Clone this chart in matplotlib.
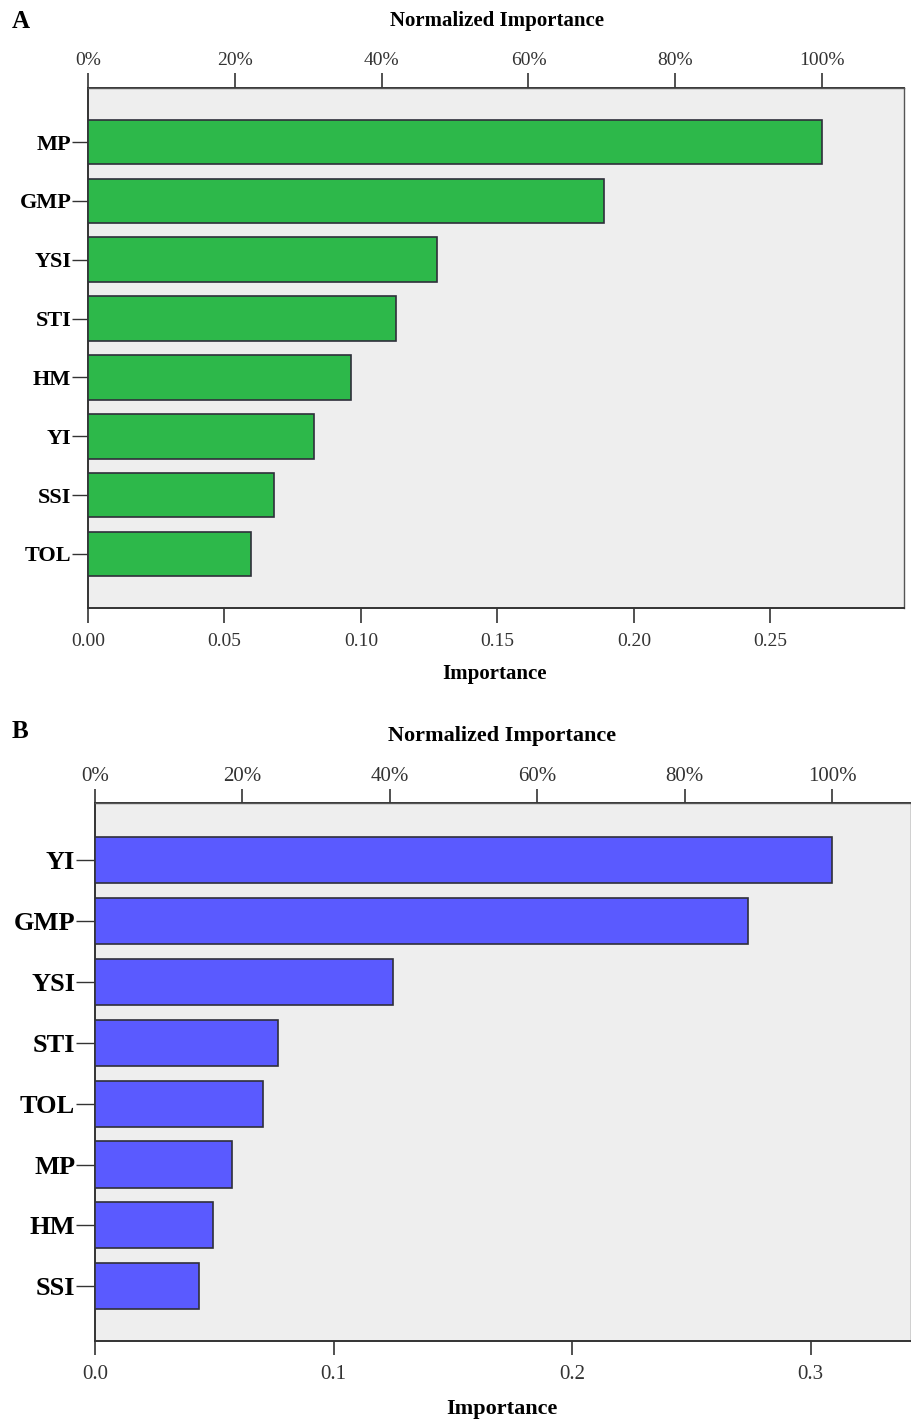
import matplotlib
matplotlib.use("Agg")
import matplotlib.pyplot as plt

plt.rcParams['font.family'] = ['Liberation Serif', 'DejaVu Serif']

# Panel A: importance of drought tolerance indices
labels_a = ["MP", "GMP", "YSI", "STI", "HM", "YI", "SSI", "TOL"]
values_a = [0.269, 0.189, 0.128, 0.113, 0.0963, 0.0828, 0.0681, 0.0597]
ticks_a = [0.00, 0.05, 0.10, 0.15, 0.20, 0.25]
ticklabels_a = ["0.00", "0.05", "0.10", "0.15", "0.20", "0.25"]

# Panel B
labels_b = ["YI", "GMP", "YSI", "STI", "TOL", "MP", "HM", "SSI"]
values_b = [0.309, 0.2736, 0.1248, 0.0767, 0.0704, 0.0574, 0.0494, 0.0436]
ticks_b = [0.0, 0.1, 0.2, 0.3]
ticklabels_b = ["0.0", "0.1", "0.2", "0.3"]

pct_ticks = [0, 20, 40, 60, 80, 100]
pct_labels = ["0%", "20%", "40%", "60%", "80%", "100%"]

W, H = 912, 1420
fig = plt.figure(figsize=(W / 100, H / 100), dpi=100)


def px(x, y):
    return x / W, 1 - y / H


def panel(rect, labels, values, ticks, ticklabels, xmax, color, ylim,
          ylab_size, ytick_len, tick_size, tick_len, top_pad, bottom_pad,
          title_size, top_title_xy, bottom_title_xy, letter, letter_xy):
    ax = fig.add_axes(rect)
    ax.set_facecolor("#eeeeee")
    n = len(labels)
    pos = list(range(n))
    ax.barh(pos, values, height=0.76, color=color, edgecolor="#2f2f3a",
            linewidth=1.2, zorder=3)
    ax.set_xlim(0, xmax)
    ax.set_ylim(*ylim)
    ax.set_yticks(pos)
    ax.set_yticklabels(labels, fontsize=ylab_size, fontweight="bold")
    ax.set_xticks(ticks)
    ax.set_xticklabels(ticklabels, fontsize=tick_size, color="#333333")
    ax.tick_params(axis="x", direction="out", length=tick_len, width=1.2,
                   color="#333333", pad=bottom_pad)
    ax.tick_params(axis="y", direction="out", length=ytick_len, width=1.0,
                   color="#333333", pad=0.5)
    for s in ["left", "bottom"]:
        ax.spines[s].set_color("#333333")
        ax.spines[s].set_linewidth(1.4)
    for s in ["top", "right"]:
        ax.spines[s].set_color("#555555")
        ax.spines[s].set_linewidth(1.0)

    vmax = max(values)
    sec = ax.secondary_xaxis("top", functions=(lambda x: x / vmax * 100,
                                               lambda p: p * vmax / 100))
    sec.set_xticks(pct_ticks)
    sec.set_xticklabels(pct_labels, fontsize=tick_size, color="#333333")
    sec.tick_params(direction="out", length=tick_len, width=1.2,
                    color="#333333", pad=top_pad)
    sec.spines["top"].set_color("#333333")
    sec.spines["top"].set_linewidth(1.4)

    fig.text(*px(*top_title_xy), "Normalized Importance", fontsize=title_size,
             fontweight="bold", ha="center", va="center")
    fig.text(*px(*bottom_title_xy), "Importance", fontsize=title_size,
             fontweight="bold", ha="center", va="center")
    fig.text(*px(*letter_xy), letter, fontsize=18,
             fontweight="bold", ha="left", va="center")
    return ax


panel([88 / W, 1 - 608 / H, 816 / W, 520 / H],
      labels_a, values_a, ticks_a, ticklabels_a, 0.299, "#2db84a",
      (7.92, -0.92), 16, 11.5, 14, 10.8, 3, 7, 15,
      (497, 21), (495, 674), "A", (12, 21))

panel([95 / W, 1 - 1341 / H, 816 / W, 538 / H],
      labels_b, values_b, ticks_b, ticklabels_b, 0.342, "#5a5aff",
      (7.9, -0.94), 19, 13.7, 15, 10, 2, 7, 16,
      (502, 736), (502, 1409), "B", (12, 732))

fig.savefig("out.png", dpi=100)
